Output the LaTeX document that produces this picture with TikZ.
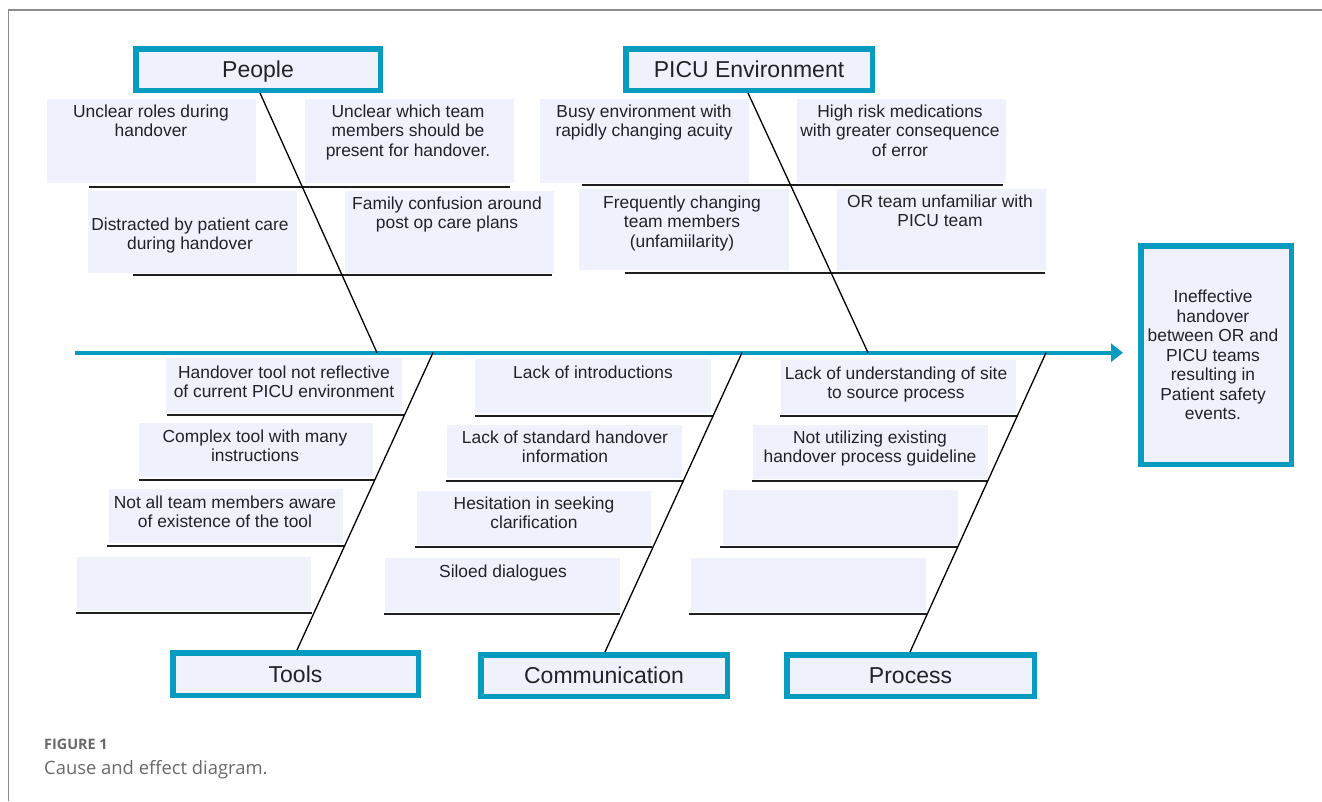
\documentclass[tikz,border=0pt]{standalone}
\usepackage{fontspec}
\setmainfont{Liberation Sans}
\newfontfamily\capfont{Open Sans}
\usetikzlibrary{arrows.meta}
\definecolor{tealc}{RGB}{8,155,192}
\definecolor{boxfill}{RGB}{239,242,253}
\definecolor{txt}{RGB}{34,34,40}
\definecolor{framec}{RGB}{140,140,140}
\definecolor{capgray}{RGB}{105,105,105}
\tikzset{
  cbox/.style={fill=boxfill, draw=none, inner sep=0pt, anchor=north west},
  cause/.style={anchor=north, align=center, inner sep=0pt, outer sep=0pt, yshift=7.4pt,
    font=\fontsize{17.4}{19.5}\selectfont, text=txt},
  hdr/.style={draw=tealc, line width=5.5pt, fill=boxfill, inner sep=0pt, text=txt,
    font=\fontsize{23}{26}\selectfont, text height=16.5pt, text depth=0pt},
  subline/.style={draw=black!88, line width=1.8pt},
  bone/.style={draw=black, line width=1.3pt},
  spine/.style={draw=tealc, line width=3.8pt},
  framel/.style={draw=framec, line width=1.5pt}
}
\begin{document}
\begin{tikzpicture}[x=1pt,y=-1pt]
\useasboundingbox (0,0) rectangle (1322,801);
% frame
\draw[framel] (1322,10) -- (8.5,10) -- (8.5,801);

% header boxes
\node[hdr, minimum width=244.5pt, minimum height=41.5pt] (people) at (258,69.5) {People};
\node[hdr, minimum width=246.5pt, minimum height=41.5pt] (picu) at (749,69.5) {PICU Environment};
\node[hdr, minimum width=245.5pt, minimum height=42.5pt] (tools) at (295.5,674) {Tools};
\node[hdr, minimum width=246.5pt, minimum height=41.5pt] (comm) at (604,675.5) {Communication};
\node[hdr, minimum width=247.5pt, minimum height=41.5pt] (proc) at (910.5,675.5) {Process};
\node[hdr, minimum width=150.5pt, minimum height=218.5pt] (effect) at (1216,355) {};
\node[cause] (effecttxt) at (1213,296.7) {\strut Ineffective\\handover\\between OR and\\PICU teams\\resulting in\\Patient safety\\events.};

% cause boxes (upper)
\node[cbox, minimum width=209pt, minimum height=84pt] (b1) at (47,99) {};
\node[cbox, minimum width=209pt, minimum height=84pt] (b2) at (305,99) {};
\node[cbox, minimum width=209pt, minimum height=82pt] (b3) at (88,191) {};
\node[cbox, minimum width=209pt, minimum height=82pt] (b4) at (345,191) {};
\node[cbox, minimum width=209pt, minimum height=84pt] (b5) at (540,99) {};
\node[cbox, minimum width=209pt, minimum height=84pt] (b6) at (797,99) {};
\node[cbox, minimum width=210pt, minimum height=81pt] (b7) at (579,189) {};
\node[cbox, minimum width=209pt, minimum height=81pt] (b8) at (837,189) {};
% cause boxes (lower)
\node[cbox, minimum width=236pt, minimum height=55pt] (b9) at (166,358) {};
\node[cbox, minimum width=234pt, minimum height=54pt] (b10) at (139,423) {};
\node[cbox, minimum width=234pt, minimum height=54pt] (b11) at (109,489) {};
\node[cbox, minimum width=234pt, minimum height=54pt] (b12) at (77,557) {};
\node[cbox, minimum width=236pt, minimum height=54pt] (b13) at (475,359) {};
\node[cbox, minimum width=235pt, minimum height=53pt] (b14) at (447,425) {};
\node[cbox, minimum width=234pt, minimum height=54pt] (b15) at (417,491) {};
\node[cbox, minimum width=235pt, minimum height=54pt] (b16) at (385,558) {};
\node[cbox, minimum width=235pt, minimum height=54pt] (b17) at (781,360) {};
\node[cbox, minimum width=235pt, minimum height=54pt] (b18) at (753,425) {};
\node[cbox, minimum width=235pt, minimum height=55pt] (b19) at (723,490) {};
\node[cbox, minimum width=235pt, minimum height=54pt] (b20) at (691,558) {};

% sub lines
\draw[subline] (89,187) -- (510,187);
\draw[subline] (133,275) -- (552,275);
\draw[subline] (582,185) -- (1003,185);
\draw[subline] (625,273) -- (1045,273);
\draw[subline] (167,415) -- (405,415);
\draw[subline] (139,480) -- (375,480);
\draw[subline] (107,546) -- (344,546);
\draw[subline] (76,613) -- (312,613);
\draw[subline] (475,416) -- (713,416);
\draw[subline] (446,481) -- (683,481);
\draw[subline] (415,547) -- (652,547);
\draw[subline] (384,614) -- (620,614);
\draw[subline] (780,416) -- (1018,416);
\draw[subline] (752,481) -- (988,481);
\draw[subline] (720,547) -- (958,547);
\draw[subline] (689,614) -- (927,614);

% spine
\coordinate (spstart) at (75,352.7);
\coordinate (sp1) at (377,352.7);
\coordinate (sp2) at (868,352.7);
\coordinate (sp3) at (433,352.7);
\coordinate (sp4) at (742,352.7);
\coordinate (sp5) at (1046,352.7);
\draw[spine, -{Triangle[length=12pt,width=18pt]}] (spstart) -- ([xshift=-15pt]effect.west |- spstart);

% bones
\draw[bone] ([xshift=2pt]people.south) -- (sp1);
\draw[bone] ([xshift=-1pt]picu.south) -- (sp2);
\draw[bone] (sp3) -- ([xshift=1.5pt]tools.north);
\draw[bone] (sp4) -- ([xshift=1pt]comm.north);
\draw[bone] (sp5) -- ([xshift=-0.5pt]proc.north);

% cause texts
\node[cause] (t1) at (151,111) {\strut Unclear roles during\\handover};
\node[cause] (t2) at (408,111) {\strut Unclear which team\\members should be\\present for handover.};
\node[cause] (t3) at (190,224) {\strut Distracted by patient care\\during handover};
\node[cause] (t4) at (447,203) {\strut Family confusion around\\post op care plans};
\node[cause] (t5) at (644,111) {\strut Busy environment with\\rapidly changing acuity};
\node[cause] (t6) at (900,111) {\strut High risk medications\\with greater consequence\\of error};
\node[cause] (t7) at (682,202) {\strut Frequently changing\\team members\\(unfamiilarity)};
\node[cause] (t8) at (940,201) {\strut OR team unfamiliar with\\PICU team};
\node[cause] (t9) at (284,372) {\strut Handover tool not reflective\\of current PICU environment};
\node[cause] (t10) at (255,436) {\strut Complex tool with many\\instructions};
\node[cause] (t11) at (225,502) {\strut Not all team members aware\\of existence of the tool};
\node[cause] (t13) at (593,372) {\strut Lack of introductions};
\node[cause] (t14) at (565,437) {\strut Lack of standard handover\\information};
\node[cause] (t15) at (534,503) {\strut Hesitation in seeking\\clarification};
\node[cause] (t16) at (503,571) {\strut Siloed dialogues};
\node[cause] (t17) at (896,373) {\strut Lack of understanding of site\\to source process};
\node[cause] (t18) at (870,437) {\strut Not utilizing existing\\handover process guideline};

% caption
\node[anchor=base west, inner sep=0pt, text=capgray, font=\capfont\bfseries\fontsize{14.4}{16}\selectfont] (fig) at (44,749.3) {FIGURE 1};
\node[anchor=base west, inner sep=0pt, text=capgray, font=\capfont\fontsize{18.4}{21}\selectfont] (cap) at (44,774) {Cause and effect diagram.};
\end{tikzpicture}
\end{document}
